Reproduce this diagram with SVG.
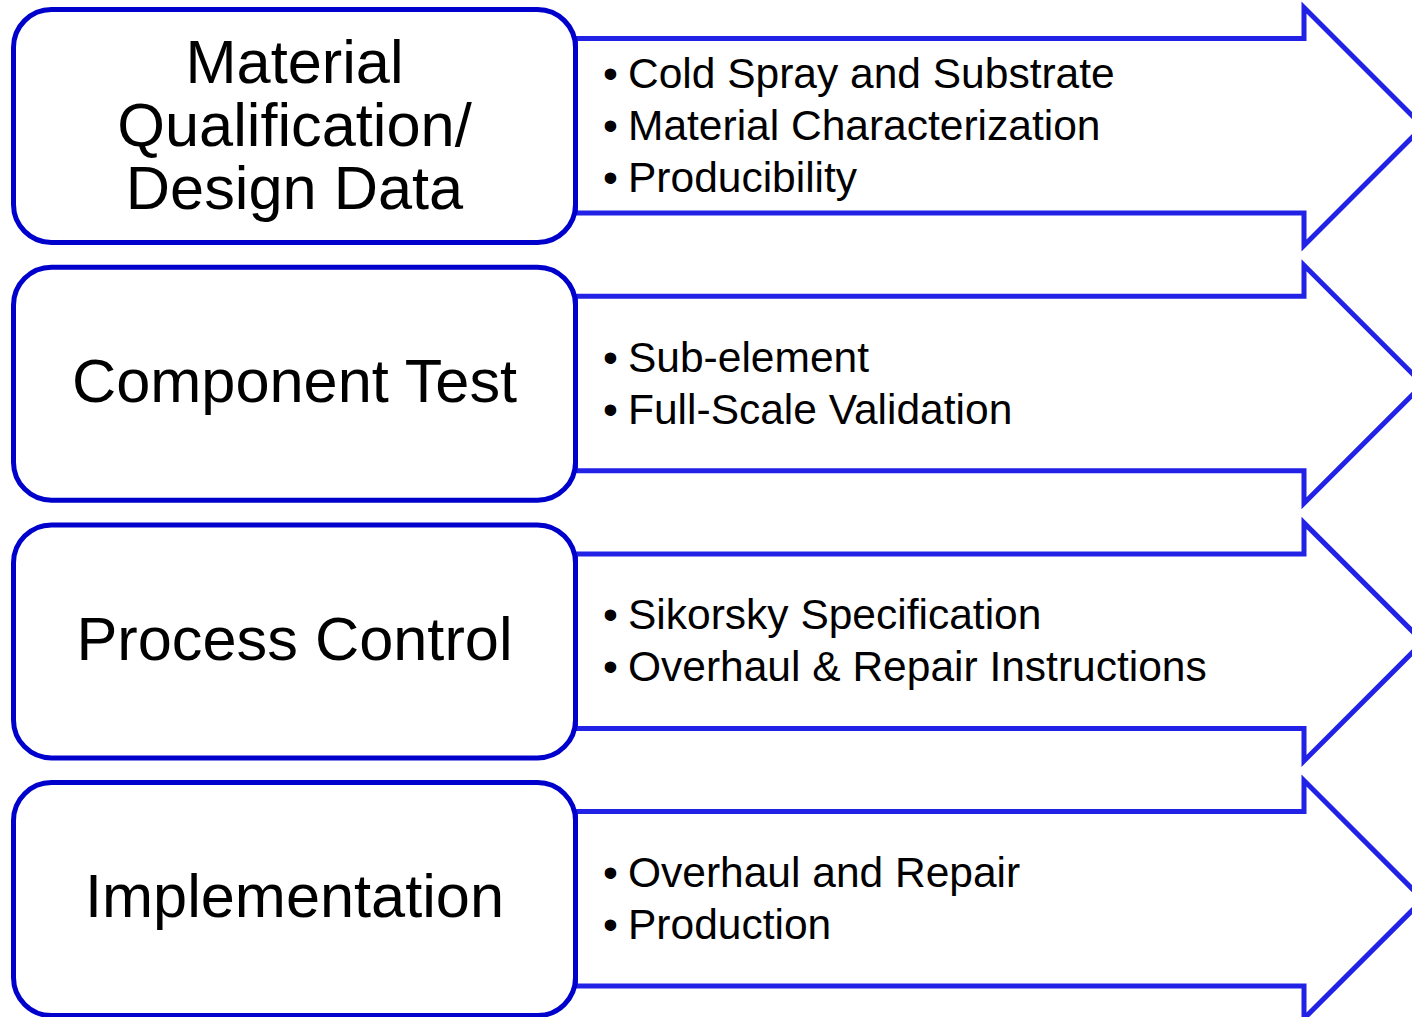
<svg xmlns="http://www.w3.org/2000/svg" width="1412" height="1017" viewBox="0 0 1412 1017">
<style>
.box{fill:#fff;stroke:#0000CC;stroke-width:5}
.arr{fill:#fff;stroke:#2222E6;stroke-width:5;stroke-linejoin:miter}
.t{font-family:"Liberation Sans",Arial,sans-serif;font-size:61.3px;fill:#000;text-anchor:middle}
.b{font-family:"Liberation Sans",Arial,sans-serif;font-size:42.5px;fill:#000}
</style>
<defs>
<polygon id="arrow" points="575.5,38.5 1304,38.5 1304,7.5 1423,126.5 1304,245.5 1304,213 575.5,213"/>
<rect id="boxshape" x="13.5" y="9.5" width="562" height="233" rx="38" ry="38"/>
</defs>
<g id="connectors">
<use href="#arrow" class="arr"/>
<use href="#arrow" class="arr" transform="translate(0,257.7)"/>
<use href="#arrow" class="arr" transform="translate(0,515.4)"/>
<use href="#arrow" class="arr" transform="translate(0,773.1)"/>
</g>
<g id="node1">
<use href="#boxshape" class="box"/>
<text class="t"><tspan x="294.5" y="82.5">Material</tspan><tspan x="294.5" y="145.5">Qualification/</tspan><tspan x="294.5" y="208.5">Design Data</tspan></text>
</g>
<g id="node1-details">
<text class="b"><tspan x="603" y="88">•</tspan><tspan x="628" y="88">Cold Spray and Substrate</tspan></text>
<text class="b"><tspan x="603" y="140">•</tspan><tspan x="628" y="140">Material Characterization</tspan></text>
<text class="b"><tspan x="603" y="192">•</tspan><tspan x="628" y="192">Producibility</tspan></text>
</g>
<g id="node2">
<use href="#boxshape" class="box" transform="translate(0,257.7)"/>
<text class="t" x="294.5" y="401.5">Component Test</text>
</g>
<g id="node2-details">
<text class="b"><tspan x="603" y="372">•</tspan><tspan x="628" y="372">Sub-element</tspan></text>
<text class="b"><tspan x="603" y="424">•</tspan><tspan x="628" y="424">Full-Scale Validation</tspan></text>
</g>
<g id="node3">
<use href="#boxshape" class="box" transform="translate(0,515.4)"/>
<text class="t" x="294.5" y="659.5">Process Control</text>
</g>
<g id="node3-details">
<text class="b"><tspan x="603" y="629">•</tspan><tspan x="628" y="629">Sikorsky Specification</tspan></text>
<text class="b"><tspan x="603" y="681">•</tspan><tspan x="628" y="681">Overhaul &amp; Repair Instructions</tspan></text>
</g>
<g id="node4">
<use href="#boxshape" class="box" transform="translate(0,773.1)"/>
<text class="t" x="294.5" y="916.5">Implementation</text>
</g>
<g id="node4-details">
<text class="b"><tspan x="603" y="887">•</tspan><tspan x="628" y="887">Overhaul and Repair</tspan></text>
<text class="b"><tspan x="603" y="939">•</tspan><tspan x="628" y="939">Production</tspan></text>
</g>
</svg>
